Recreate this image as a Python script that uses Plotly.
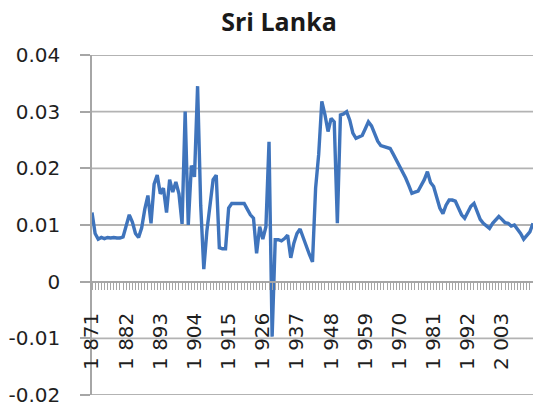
import plotly.graph_objects as go

years = list(range(1871, 2014))
values = [
    0.0122, 0.0085, 0.0075, 0.0078, 0.0076, 0.0078, 0.0077, 0.0078, 0.0077, 0.0077,  # 1871-1880
    0.0079, 0.0098, 0.0118, 0.0105, 0.0085, 0.0078, 0.0095, 0.0128, 0.0152, 0.0103,  # 1881-1890
    0.0172, 0.0188, 0.0155, 0.0165, 0.0122, 0.0180, 0.0158, 0.0176, 0.0155, 0.0102,  # 1891-1900
    0.0300, 0.0100, 0.0205, 0.0185, 0.0345, 0.0135, 0.0022, 0.0090, 0.0140, 0.0180,  # 1901-1910
    0.0188, 0.0060, 0.0058, 0.0058, 0.0130, 0.0138, 0.0138, 0.0138, 0.0138, 0.0138,  # 1911-1920
    0.0128, 0.0118, 0.0112, 0.0050, 0.0097, 0.0075, 0.0097, 0.0247, -0.0097, 0.0074,  # 1921-1930
    0.0074, 0.0072, 0.0076, 0.0082, 0.0042, 0.0068, 0.0085, 0.0093, 0.0078, 0.0062,  # 1931-1940
    0.0048, 0.0035, 0.0165, 0.0225, 0.0318, 0.0295, 0.0265, 0.0288, 0.0282, 0.0103,  # 1941-1950
    0.0294, 0.0296, 0.0300, 0.0285, 0.0262, 0.0253, 0.0256, 0.0258, 0.0270, 0.0282,  # 1951-1960
    0.0275, 0.0262, 0.0248, 0.0240, 0.0238, 0.0237, 0.0235, 0.0225, 0.0215, 0.0203,  # 1961-1970
    0.0193, 0.0183, 0.0170, 0.0156, 0.0158, 0.0160, 0.0170, 0.0180, 0.0194, 0.0175,  # 1971-1980
    0.0168, 0.0150, 0.0130, 0.0120, 0.0135, 0.0144, 0.0144, 0.0142, 0.0130, 0.0118,  # 1981-1990
    0.0112, 0.0122, 0.0133, 0.0138, 0.0125, 0.0110, 0.0103, 0.0098, 0.0094, 0.0103,  # 1991-2000
    0.0110, 0.0115, 0.0110, 0.0104, 0.0103, 0.0098, 0.0100, 0.0093, 0.0085, 0.0075,  # 2001-2010
    0.0082, 0.0088, 0.0103,                                                          # 2011-2013
]

# labelled years (every 11th), shown with a space as thousands separator as in the reference
label_years = years[::11]
x_tick_labels = [f"{y // 1000} {y % 1000:03d}" for y in label_years]
y_tick_vals = [0.04, 0.03, 0.02, 0.01, 0.0, -0.01, -0.02]
y_tick_text = ["0.04", "0.03", "0.02", "0.01", "0", "-0.01", "-0.02"]

grid_col = "#B3B3B3"
axis_col = "#A6A6A6"
tick_font = dict(family="DejaVu Sans", size=20, color="#1f1f1f")

W, H = 533, 412

fig = go.Figure()
# invisible copy on the label axis so that plotly draws that axis
fig.add_trace(go.Scatter(
    x=years, y=values, mode="lines", xaxis="x2", yaxis="y",
    line=dict(color="rgba(0,0,0,0)", width=1),
    hoverinfo="skip", showlegend=False,
))
fig.add_trace(go.Scatter(
    x=years, y=values, mode="lines",
    line=dict(color="#3F74BC", width=3.4),
    showlegend=False,
))

grid_shapes = [
    dict(type="line", xref="x", yref="y", x0=years[0], x1=years[-1], y0=v, y1=v,
         line=dict(color=grid_col, width=1.8), layer="below")
    for v in y_tick_vals if v != 0
]

fig.update_layout(
    template="none",
    width=W, height=H,
    margin=dict(l=92, r=0, t=55, b=17, autoexpand=False),
    paper_bgcolor="white", plot_bgcolor="rgba(0,0,0,0)",
    shapes=grid_shapes,
    title=dict(
        text="<b>Sri Lanka</b>", x=279 / W, y=1 - 22 / H,
        xref="container", yref="container",
        xanchor="center", yanchor="middle",
        font=dict(family="Open Sans", size=25, color="#1a1a1a"),
    ),
    # category axis crossing at y = 0: line and a tick mark at every year
    xaxis=dict(
        range=[years[0], years[-1]],
        tickmode="array", tickvals=years, ticktext=[""] * len(years),
        ticks="outside", ticklen=8, tickwidth=1, tickcolor=axis_col,
        showline=True, linecolor=axis_col, linewidth=1.5,
        showgrid=False, zeroline=False, automargin=False,
        anchor="free", position=1 / 3,
    ),
    # overlaid axis carrying only the rotated year labels
    xaxis2=dict(
        overlaying="x", side="bottom",
        range=[years[0], years[-1]],
        tickmode="array", tickvals=label_years, ticktext=x_tick_labels,
        tickangle=-90, tickfont=tick_font,
        ticks="outside", ticklen=22, tickcolor="rgba(0,0,0,0)",
        showline=False, showgrid=False, zeroline=False, automargin=False,
        anchor="free", position=1 / 3,
    ),
    yaxis=dict(
        range=[-0.02, 0.04],
        tickmode="array", tickvals=y_tick_vals, ticktext=y_tick_text,
        tickfont=tick_font, ticklabelstandoff=16,
        ticks="outside", ticklen=10, tickwidth=1.5, tickcolor=axis_col,
        showline=True, linecolor=axis_col, linewidth=1.5,
        showgrid=False, zeroline=False, automargin=False,
    ),
)

fig.write_html(
    "out.html",
    config={"displayModeBar": False},
    post_script="document.body.style.margin='0';document.body.style.overflow='hidden';",
)
